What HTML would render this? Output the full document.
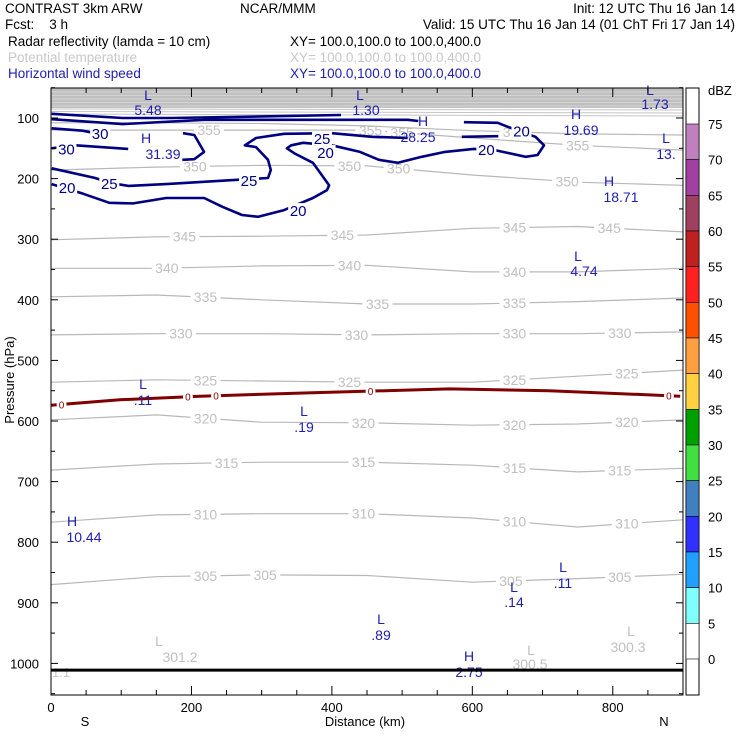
<!DOCTYPE html>
<html><head><meta charset="utf-8"><style>
html,body{margin:0;padding:0;background:#fff;}
svg text{font-family:"Liberation Sans",sans-serif;}
</style></head><body>
<svg id="chart" width="740" height="740" viewBox="0 0 740 740" xmlns="http://www.w3.org/2000/svg">
<g font-size="13.5">
<text x="5" y="13" fill="#000">CONTRAST  3km ARW</text>
<text x="240" y="13" fill="#000">NCAR/MMM</text>
<text x="735" y="13" fill="#000" text-anchor="end">Init: 12 UTC Thu 16 Jan 14</text>
<text x="5" y="29" fill="#000" xml:space="preserve">Fcst:    3 h</text>
<text x="735" y="29" fill="#000" text-anchor="end">Valid: 15 UTC Thu 16 Jan 14 (01 ChT Fri 17 Jan 14)</text>
<text x="8" y="46" fill="#000">Radar reflectivity (lamda = 10 cm)</text>
<text x="290" y="46" fill="#000">XY= 100.0,100.0 to 100.0,400.0</text>
<text x="8" y="62" fill="#c8c8c8">Potential temperature</text>
<text x="290" y="62" fill="#c8c8c8">XY= 100.0,100.0 to 100.0,400.0</text>
<text x="8" y="78" fill="#2020b0">Horizontal wind speed</text>
<text x="290" y="78" fill="#2020b0">XY= 100.0,100.0 to 100.0,400.0</text>
</g>
<g id="plot"></g>
<g id="cbar"></g>
</svg>
<script>
// ---- data ----
const distKm = [0,150,300,450,600,750,900];
const thetaLevels = [305,310,315,320,325,330,335,340,345,350,355,360];
const thetaP = [
 [870,857,854,855,866,860,853],
 [767,755,753,753,760,775,763],
 [681,671,668,668,673,684,678],
 [598,590,602,603,607,605,598],
 [536,532,534,536,536,526,516],
 [458,456,456,458,456,456,453],
 [395,392,400,407,407,403,397],
 [348,348,344,343,354,354,348],
 [301,296,295,293,282,279,288],
 [186,181,178,179,194,206,211],
 [120,120,120,120,133,145,153],
 [108,108,109,113,121,126,128]
];
const thetaLabelKm = [[220,305,655,810],[220,445,660,820],[250,445,660,810],[220,445,660,820],[220,425,660,820],[185,435,660,810],[220,465,660],[165,425,660],[190,415,660,795],[205,425,495,735],[225,455,500,750],[660]];
const freezeKm = [0,98,212,354,567,709,896];
const freezeP = [574,565,559,554,547,550,559];
const freezeLabelKm = [15,195,235,455,880];
const surfaceP = 1011;
// wind speed contours: [km,hPa] points
const windLevels = [20,25,25,30,30,30,35,35];
const windLines = [
 [[1,209],[46,225],[83,240],[117,241],[164,232],[218,232],[245,247],[272,260],[295,263],[332,252],[373,232],[393,219],[396,211],[373,174],[346,158],[336,150],[342,145],[359,141],[400,145],[440,156],[467,169],[494,174],[528,164],[561,156],[602,151],[632,153],[676,164],[693,161],[702,145],[690,131],[669,123],[636,108],[588,107]],
 [[1,183],[63,199],[83,207],[110,212],[164,209],[265,202],[309,199],[313,186],[309,169],[292,148],[276,145],[292,133],[332,126],[400,125],[457,131],[508,133]],
 [[585,131],[637,130]],
 [[1,117],[45,121],[63,125],[82,128]],
 [[1,150],[35,145],[110,151]],
 [[188,125],[204,128],[218,156],[204,168],[187,169]],
 [[1,93],[102,100],[171,100],[413,95]],
 [[1,102],[102,110],[218,103],[508,103],[523,105]]
];
const windLabels = [["20",23,214],["20",352,252],["20",391,156],["20",620,151],["20",670,121],["25",83,207],["25",282,202],["25",386,133],["30",70,125],["30",22,150]];
const hlMarks = [
 ["L","5.48",148,95,148,110],["L","1.30",360,95,366,110],["L","1.73",650,90,655,104],
 ["H","28.25",423,121,418,137],["H","31.39",146,138,163,154],["H","19.69",576,114,581,130],
 ["L","13.",666,138,666,154],["H","18.71",609,181,621,197],["L","4.74",578,256,584,271],
 ["L",".11",143,384,143,400],["L",".19",304,411,304,427],["H","10.44",72,521,84,537],
 ["L",".11",563,567,563,583],["L",".14",514,587,514,602],["L",".89",381,619,381,635],["H","2.75",469,656,469,672]
];
const grayMarks = [["L","301.2",159,641,180,657],["L","300.5",531,650,530,664],["L","300.3",631,631,628,647]];
const pTicks = [100,200,300,400,500,600,700,800,900,1000];
const xTicks = [0,200,400,600,800];
const cbLevels = [75,70,65,60,55,50,45,40,35,30,25,20,15,10,5,0];
const cbColors = ["#c080c0","#a040a0","#a04060","#c02020","#ff2020","#ff5000","#ffa040","#ffd040","#00a000","#40e040","#4080c0","#3030ff","#20a0ff","#80ffff","#ffffff"];

// ---- axes ----
const X0=51,X1=683,Y0=88,Y1=695;
const xs = km => X0 + km*(X1-X0)/900;
const ys = p => 118 + (p-100)*0.606;
const NS="http://www.w3.org/2000/svg";
const plot=document.getElementById('plot');
function mk(tag,attrs,parent){const e=document.createElementNS(NS,tag);for(const k in attrs)e.setAttribute(k,attrs[k]);(parent||plot).appendChild(e);return e;}
function txt(s,attrs,parent){const e=mk('text',attrs,parent);e.textContent=s;return e;}
function interp(arrX,arrY,x){for(let i=0;i<arrX.length-1;i++){if(x<=arrX[i+1]){const t=(x-arrX[i])/(arrX[i+1]-arrX[i]);return arrY[i]+t*(arrY[i+1]-arrY[i]);}}return arrY[arrY.length-1];}

// gray packed stratosphere
let r=mk('rect',{x:X0,y:Y0,width:X1-X0,height:20,fill:'#c0c0c0'});


for(let i=0;i<5;i++){let l=mk('line',{x1:X0,x2:X1,y1:Y0+4+i*3.5,y2:Y0+4+i*3.5,stroke:'#e8e8e8','stroke-width':0.6});

}
for(let i=0;i<3;i++){let l=mk('line',{x1:X0,x2:X1,y1:109+i*2.5,y2:110+i*3,stroke:'#c4c4c4','stroke-width':1});

}

// theta contours
thetaLevels.forEach((lev,i)=>{
 const d=distKm.map((k,j)=>(j?'L':'M')+xs(k).toFixed(1)+','+ys(thetaP[i][j]).toFixed(1)).join(' ');
 const p=mk('path',{d:d,fill:'none',stroke:'#b8b8b8','stroke-width':1.2});
 
 
 thetaLabelKm[i].forEach(k=>{
  const y=ys(interp(distKm,thetaP[i],k));
  mk('rect',{x:xs(k)-15,y:y-6,width:30,height:12,fill:'#fff'});
  const t=txt(String(lev),{x:xs(k),y:y+5,'text-anchor':'middle','font-size':14,fill:'#c0c0c0'});
  
  
 });
});
// wind contours
windLines.forEach((pts,i)=>{
 const d=pts.map((q,j)=>(j?'L':'M')+xs(q[0]).toFixed(1)+','+ys(q[1]).toFixed(1)).join(' ');
 const p=mk('path',{d:d,fill:'none',stroke:'#000080','stroke-width':2.6,'stroke-linejoin':'round'});
 
 
});
windLabels.forEach(w=>{
 const x=xs(w[1]),y=ys(w[2]);
 mk('rect',{x:x-10,y:y-7,width:20,height:14,fill:'#fff'});
 const t=txt(w[0],{x:x,y:y+6,'text-anchor':'middle','font-size':15,fill:'#000080'});
 
 
});
// freezing level
{
 const d=freezeKm.map((k,j)=>(j?'L':'M')+xs(k).toFixed(1)+','+ys(freezeP[j]).toFixed(1)).join(' ');
 const p=mk('path',{d:d,fill:'none',stroke:'#800000','stroke-width':3});
 
 
 freezeLabelKm.forEach(k=>{
  const y=ys(interp(freezeKm,freezeP,k));
  mk('ellipse',{cx:xs(k),cy:y,rx:5,ry:5,fill:'#fff'});
  const t=txt('0',{x:xs(k),y:y+4,'text-anchor':'middle','font-size':10,fill:'#800000'});
  
  
 });
}
// H/L marks
function hl(arr,color,nm){arr.forEach(m=>{
 const a=txt(m[0],{x:m[2],y:m[3]+5,'text-anchor':'middle','font-size':14,fill:color});
 
 
 const b=txt(m[1],{x:m[4],y:m[5]+5,'text-anchor':'middle','font-size':14,fill:color});
 
 
});}
hl(hlMarks,'#2020b0','wind-extremum');
hl(grayMarks,'#c0c0c0','theta-extremum');
{const t=txt('1.1',{x:52,y:677,'font-size':13,fill:'#c8c8c8'});

}
// surface
{const l=mk('line',{x1:X0,x2:X1,y1:ys(surfaceP),y2:ys(surfaceP),stroke:'#000','stroke-width':3});

}
// frame
{const f=mk('rect',{x:X0,y:Y0,width:X1-X0,height:Y1-Y0,fill:'none',stroke:'#000','stroke-width':1});

}
// y ticks
pTicks.forEach(p=>{
 mk('line',{x1:X0,x2:X0+7,y1:ys(p),y2:ys(p),stroke:'#000'});
 mk('line',{x1:X1-7,x2:X1,y1:ys(p),y2:ys(p),stroke:'#000'});
 const t=txt(String(p),{x:39,y:ys(p)+5,'text-anchor':'end','font-size':13,fill:'#000'});
 
 
});
for(let p=50;p<=1050;p+=50){ if(p%100){mk('line',{x1:X0,x2:X0+4,y1:ys(p),y2:ys(p),stroke:'#000'});mk('line',{x1:X1-4,x2:X1,y1:ys(p),y2:ys(p),stroke:'#000'});} }
for(let k=50;k<900;k+=50){const L=(k%200)?5:9;
 mk('line',{x1:xs(k),x2:xs(k),y1:Y1,y2:Y1-L,stroke:'#000'});
 mk('line',{x1:xs(k),x2:xs(k),y1:Y0,y2:Y0+L,stroke:'#000'});}
xTicks.forEach(k=>{
 const t=txt(String(k),{x:xs(k),y:712,'text-anchor':'middle','font-size':13,fill:'#000'});
 
 
});
{let t=txt('S',{x:85,y:726,'text-anchor':'middle','font-size':13});

t=txt('N',{x:664,y:726,'text-anchor':'middle','font-size':13});

t=txt('Distance (km)',{x:365,y:726,'text-anchor':'middle','font-size':13});

t=txt('Pressure (hPa)',{x:14,y:380,'text-anchor':'middle','font-size':13,transform:'rotate(-90 14 380)'});
}
// colorbar
const cb=document.getElementById('cbar');
const CBX=686,CBW=13,cbY=v=>124+(75-v)*7.133;
mk('rect',{x:CBX,y:Y0,width:CBW,height:Y1-Y0,fill:'#fff',stroke:'#000'},cb);
cbColors.forEach((c,i)=>{
 const y1=cbY(cbLevels[i]),y2=cbY(cbLevels[i+1]);
 const s=mk('rect',{x:CBX,y:y1,width:CBW,height:y2-y1,fill:c,stroke:'#000','stroke-width':0.6},cb);
 
 
});
cbLevels.forEach(v=>{
 const t=txt(String(v),{x:708,y:cbY(v)+5,'font-size':13,fill:'#000'},cb);
 
 
});
{const t=txt('dBZ',{x:708,y:95,'font-size':13,fill:'#000'},cb);
}
</script>
</body></html>
